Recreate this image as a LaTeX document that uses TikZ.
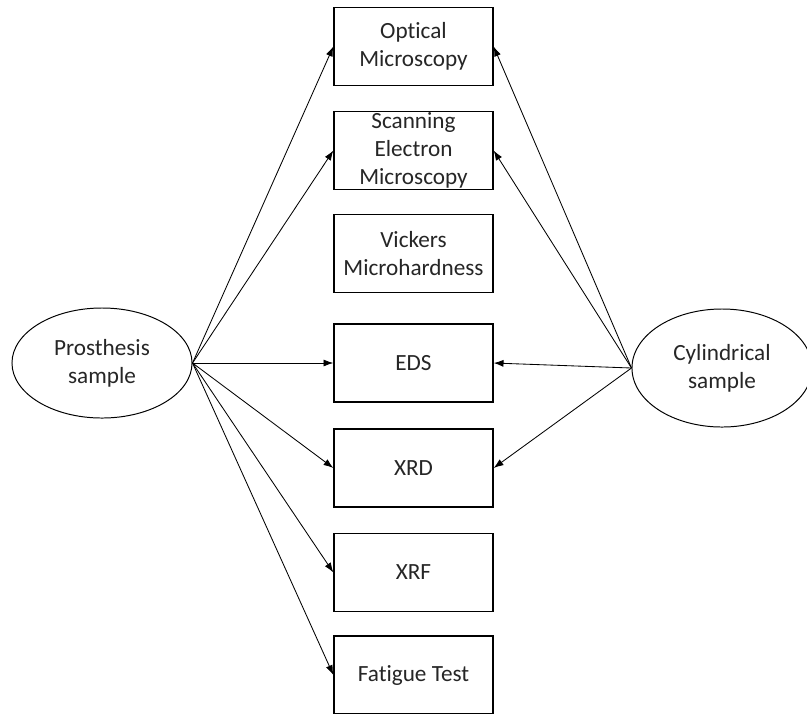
\documentclass[tikz,border=0pt]{standalone}
\usepackage{fontspec}
\setmainfont{Carlito}[Ligatures=NoCommon]
\usetikzlibrary{shapes.geometric,arrows.meta}

\begin{document}
\begin{tikzpicture}[x=.025cm,y=-.025cm,
  every node/.style={font=\fontsize{16.5}{20}\selectfont,text=black!85,align=center,inner sep=0pt},
  testbox/.style={draw,line width=.9pt,minimum width=3.975cm,minimum height=1.95cm},
  sample/.style={draw,ellipse,line width=.7pt,minimum width=4.5cm},
  link/.style={line width=.6pt,-{Latex[length=7pt,width=5pt]}}]
\useasboundingbox[fill=white](0,0)rectangle(807,713);
% samples
\node[sample,minimum height=2.75cm](pros)at(102,363){Prosthesis\\sample};
\node[sample,minimum height=2.95cm](cyl)at(722,368){Cylindrical\\sample};
% tests
\node[testbox](om)at(413.5,46.5){Optical\\Microscopy};
\node[testbox](sem)at(413.5,150.5){Scanning\\Electron\\Microscopy};
\node[testbox](vic)at(413.5,253.5){Vickers\\Microhardness};
\node[testbox](eds)at(413.5,363){EDS};
\node[testbox](xrd)at(413.5,468){XRD};
\node[testbox](xrf)at(413.5,572.5){XRF};
\node[testbox](fat)at(413.5,675){Fatigue Test};
% arrows
\foreach \t in {om,sem,eds,xrd,xrf,fat}\draw[link](pros.east)--(\t.west);
\foreach \t in {om,sem,eds,xrd}\draw[link](cyl.west)--(\t.east);
\end{tikzpicture}
\end{document}
